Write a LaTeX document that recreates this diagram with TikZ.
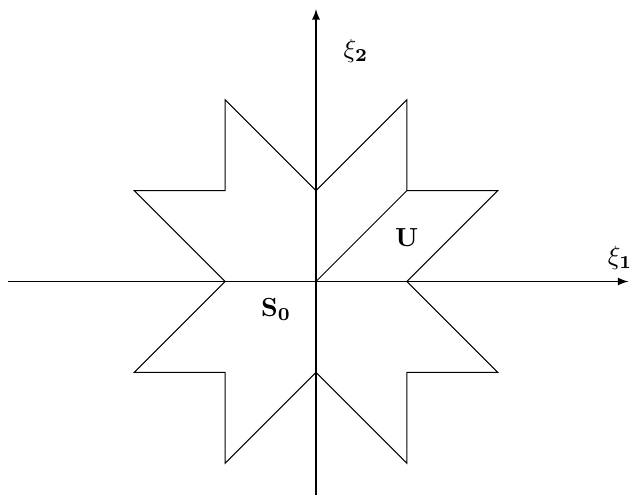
\documentclass[tikz,border=0pt]{standalone}
\usepackage{tikz}

\begin{document}
\begin{tikzpicture}[x=1.22cm,y=1.22cm,>=latex]
\useasboundingbox (-3.48,-2.351) rectangle (3.447,3.10);
\draw[->] (-3.39,0) -- (3.44,0);
\draw[->] (0,-2.36) -- (0,3.0);
\node (xi1) at (3.35,0.26) {$\xi_{\mathbf{1}}$};
\node (xi2) at (0.44,2.54) {$\xi_{\mathbf{2}}$};

\draw (0,1) -- (-1,2) -- (-1,1) -- (-2,1) -- (-1,0) -- (-2,-1) -- (-1,-1) -- (-1,-2) -- (0,-1)
 -- (1,-2) -- (1,-1) -- (2,-1) -- (1,0) -- (2,1) -- (1,1) -- (1,2) -- cycle;
\draw (0,0) -- (1,1);
\node (U) at (1.0,0.485) {$\mathbf{U}$};
\node (S0) at (-0.44,-0.31) {$\mathbf{S_0}$};

\end{tikzpicture}
\end{document}
